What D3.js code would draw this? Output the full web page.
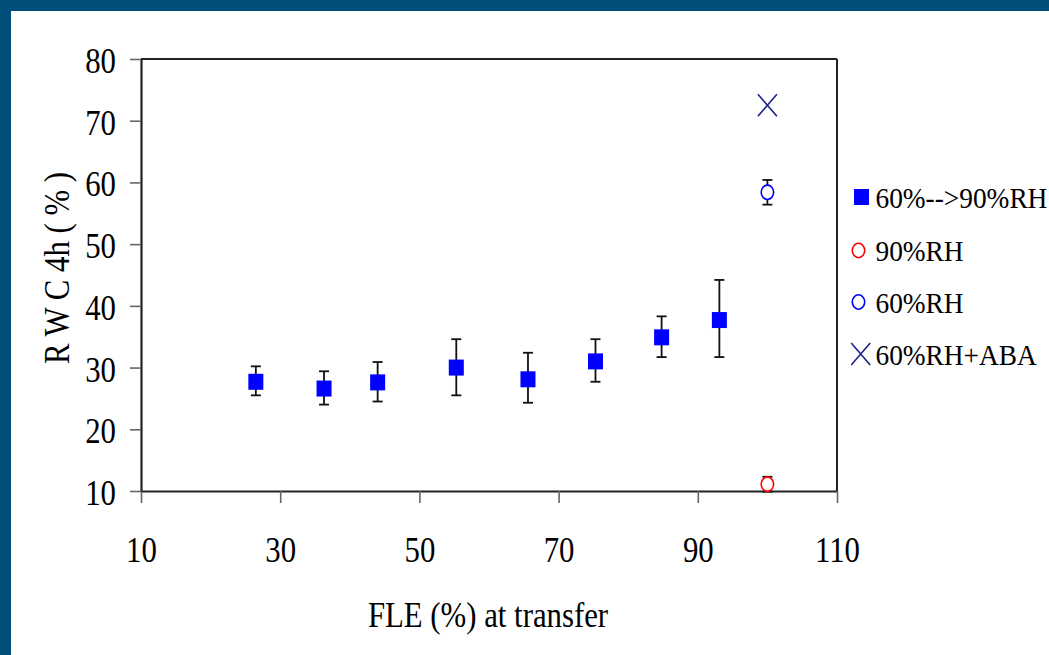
<!DOCTYPE html>
<html>
<head>
<meta charset="utf-8">
<script src="https://cdn.jsdelivr.net/npm/d3@7/dist/d3.min.js"></script>
<style>
  html, body { margin: 0; padding: 0; background: #fff; }
  svg { display: block; }
  text { font-family: "Liberation Serif", "Times New Roman", serif; fill: #000; }
</style>
</head>
<body>
<svg id="chart" width="1049" height="655"></svg>
<script>
// Transfer series (60% --> 90% RH): FLE at transfer vs RWC after 4 h, with error bar limits
const fleTransfer = [26.5, 36.3, 44.0, 55.3, 65.6, 75.3, 84.8, 93.1];
const rwcTransfer = [27.7, 26.6, 27.6, 30.0, 28.1, 31.0, 34.9, 37.7];
const rwcUpper    = [30.2, 29.4, 30.9, 34.6, 32.4, 34.6, 38.3, 44.2];
const rwcLower    = [25.5, 24.0, 24.5, 25.5, 24.3, 27.7, 31.7, 31.7];

// Constant-humidity controls, all at full leaf expansion
const controlNames = ["90%RH", "60%RH", "60%RH+ABA"];
const controlFle   = [100, 100, 100];
const controlRwc   = [11.1, 58.4, 72.5];
const controlErr   = [1.2, 2.0, 0];

const legendLabels = ["60%-->90%RH", "90%RH", "60%RH", "60%RH+ABA"];
const xTicks = [10, 30, 50, 70, 90, 110];
const yTicks = [10, 20, 30, 40, 50, 60, 70, 80];

const svg = d3.select("#chart");
const W = 1049, H = 655;
const squeeze = 0.88;           // narrow serif face used on the axes

// slide frame
svg.append("rect").attr("width", W).attr("height", H).attr("fill", "#004F7A");
svg.append("rect").attr("x", 11).attr("y", 11).attr("width", W - 11).attr("height", H - 11).attr("fill", "#fff");

const x = d3.scaleLinear().domain([10, 110]).range([141, 837]);
const y = d3.scaleLinear().domain([10, 80]).range([491, 59]);

// plot box (top and right edges)
svg.append("line").attr("x1", x(10)).attr("x2", x(110)).attr("y1", y(80)).attr("y2", y(80))
  .attr("stroke", "#222").attr("stroke-width", 2);
svg.append("line").attr("x1", x(110)).attr("x2", x(110)).attr("y1", y(80)).attr("y2", y(10))
  .attr("stroke", "#222").attr("stroke-width", 2);

// axes
const gx = svg.append("g").attr("transform", `translate(0,${y(10)})`)
  .call(d3.axisBottom(x).tickValues(xTicks).tickSize(12).tickSizeOuter(0).tickFormat(d3.format("d")));
const gy = svg.append("g").attr("transform", `translate(${x(10)},0)`)
  .call(d3.axisLeft(y).tickValues(yTicks).tickSize(11).tickSizeOuter(0).tickFormat(d3.format("d")));

[gx, gy].forEach(g => {
  g.select(".domain").attr("stroke", "#222").attr("stroke-width", 2.2);
  g.selectAll(".tick line").attr("stroke", "#666").attr("stroke-width", 1.6);
  g.selectAll(".tick text").attr("font-size", 35).attr("fill", "#000")
    .attr("font-family", "'Liberation Serif', 'Times New Roman', serif")
    .attr("transform", `scale(${squeeze},1)`);
});
gx.selectAll(".tick text").attr("y", 71).attr("dy", 0);
gy.selectAll(".tick text").attr("x", -25 / squeeze).attr("y", 13.5).attr("dy", 0);

// axis titles
svg.append("text")
  .attr("transform", `translate(488,627) scale(${squeeze},1)`)
  .attr("text-anchor", "middle").attr("font-size", 35)
  .text("FLE (%) at transfer");
svg.append("text")
  .attr("transform", `translate(69,268) rotate(-90) scale(${squeeze},1)`)
  .attr("text-anchor", "middle").attr("font-size", 35)
  .text("R W C 4h ( % )");

// error bars
const errColor = "#111", cap = 5;
function errorBar(cx, lo, hi) {
  const g = svg.append("g").attr("stroke", errColor).attr("stroke-width", 1.8);
  g.append("line").attr("x1", cx).attr("x2", cx).attr("y1", y(lo)).attr("y2", y(hi));
  g.append("line").attr("x1", cx - cap).attr("x2", cx + cap).attr("y1", y(lo)).attr("y2", y(lo));
  g.append("line").attr("x1", cx - cap).attr("x2", cx + cap).attr("y1", y(hi)).attr("y2", y(hi));
}
fleTransfer.forEach((f, i) => errorBar(x(f), rwcLower[i], rwcUpper[i]));
controlFle.forEach((f, i) => { if (controlErr[i] > 0) errorBar(x(f), controlRwc[i] - controlErr[i], controlRwc[i] + controlErr[i]); });

// marker painters
const sqW = 15, sqH = 16;
function square(g, cx, cy) {
  g.append("rect").attr("x", cx - sqW / 2).attr("y", cy - sqH / 2).attr("width", sqW).attr("height", sqH).attr("fill", "#0000FF");
}
function ring(g, cx, cy, color) {
  g.append("ellipse").attr("cx", cx).attr("cy", cy).attr("rx", 6.2).attr("ry", 7.2)
    .attr("fill", "#fff").attr("stroke", color).attr("stroke-width", 1.6);
}
function cross(g, cx, cy) {
  const hw = 9.5, hh = 11;
  g.append("path").attr("d", `M${cx - hw},${cy - hh}L${cx + hw},${cy + hh}M${cx - hw},${cy + hh}L${cx + hw},${cy - hh}`)
    .attr("stroke", "#20208C").attr("stroke-width", 1.6).attr("fill", "none");
}
const controlPainters = [
  (g, cx, cy) => ring(g, cx, cy, "#FF0000"),
  (g, cx, cy) => ring(g, cx, cy, "#0000FF"),
  (g, cx, cy) => cross(g, cx, cy)
];

const marks = svg.append("g");
fleTransfer.forEach((f, i) => square(marks, x(f), y(rwcTransfer[i])));
controlFle.forEach((f, i) => controlPainters[i](marks, x(f), y(controlRwc[i])));

// legend
const legend = svg.append("g");
const rowY = [208, 261.5, 313, 365];
const legendPainters = [(g, cx, cy) => square(g, cx, cy), ...controlPainters];
const markerX = [861.5, 858.5, 858.5, 860.7];
legendLabels.forEach((lab, i) => {
  legendPainters[i](legend, markerX[i], rowY[i] - 11);
  legend.append("text").attr("x", 875.5).attr("y", rowY[i]).attr("font-size", 28.5)
    .attr("transform", `translate(875.5,0) scale(0.96,1) translate(-875.5,0)`).text(lab);
});
</script>
</body>
</html>
